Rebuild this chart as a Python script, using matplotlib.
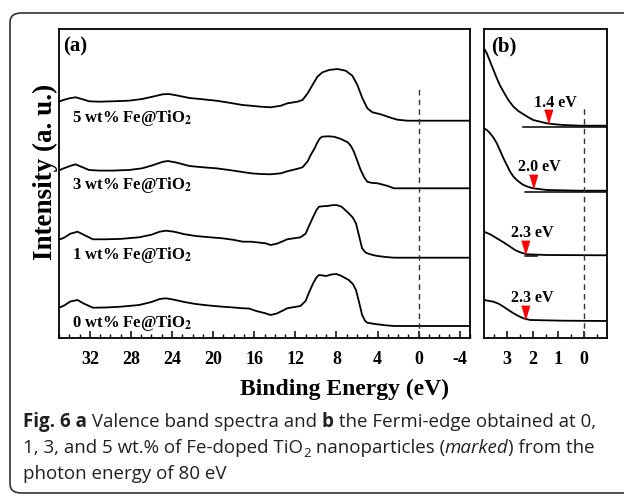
import numpy as np
import matplotlib
matplotlib.use("Agg")
import matplotlib.pyplot as plt
from matplotlib.patches import FancyBboxPatch
from matplotlib.ticker import MultipleLocator

# ---- data ----
samples = ["5 wt% Fe@TiO$_\\mathbf{2}$", "3 wt% Fe@TiO$_\\mathbf{2}$",
           "1 wt% Fe@TiO$_\\mathbf{2}$", "0 wt% Fe@TiO$_\\mathbf{2}$"]
offsets_a = [217.3, 149.7, 80.3, 12.0]

# (a) valence band spectra: binding energy (eV), intensity above own baseline
e_5 = [34.9, 34.66, 34.0, 33.36, 32.7, 32.07, 31.1, 29.8, 28.2, 26.9, 25.9, 24.9, 24.3,
       23.6, 22.3, 21.0, 19.7, 18.45, 17.15, 16.34, 15.37, 14.4, 13.4, 12.77, 11.8, 11.3,
       10.8, 10.33, 9.85, 9.36, 8.72, 7.9, 7.1, 6.45, 5.96, 5.47, 4.99, 4.5, 3.69, 2.72,
       2.07, 1.1, 0, -5]
i_5 = [19.4, 20.4, 22.4, 23.4, 21.4, 19.4, 19, 19.4, 20, 21.7, 24, 26.4, 26.7,
       25.4, 22.7, 21.4, 20, 18, 15.7, 15, 14, 13.4, 15, 17.4, 19, 20.7,
       27.4, 35.7, 44, 48.4, 50.7, 51.7, 50, 45, 35.7, 22.4, 12.4, 8.4, 6.4, 3,
       1, 0, 0, 0]
e_3 = [34.9, 34.66, 34.0, 33.4, 32.7, 32.07, 31.1, 29.8, 28.2, 26.9, 25.9, 24.9, 24.4,
       23.6, 22.3, 21.0, 19.7, 18.45, 17.15, 16.3, 15.4, 14.4, 13.4, 12.8, 11.8, 11.3,
       10.8, 10.5, 10.1, 9.85, 9.6, 9.4, 8.8, 8.25, 7.6, 6.9, 6.6, 6.3, 5.95, 5.64, 5.3,
       5.0, 4.6, 4.0, 3.5, 3.0, 2.4, 0, -5]
i_3 = [18.3, 19.5, 22, 24, 21, 18.3, 17.7, 17.7, 18.3, 20, 23, 26.5, 27.3,
       25.8, 22.3, 21, 20, 18.3, 16.3, 15, 14.3, 14, 15, 17, 19.5, 21,
       27, 33.3, 40.5, 46, 50, 51.6, 52, 51.6, 49.5, 46, 42.5, 36.6, 27, 18.3, 11,
       6.6, 5.5, 5, 3.7, 2.3, 0, 0, 0]
e_1 = [34.9, 34.5, 33.9, 33.2, 32.6, 31.7, 30.5, 29.0, 27.2, 26.0, 25.2, 24.6, 23.8,
       22.8, 21.7, 20.4, 19.1, 18.1, 17.1, 16.3, 15.6, 14.9, 14.4, 13.8, 13.2, 12.8,
       11.5, 11.0, 10.7, 10.3, 9.95, 9.7, 9.3, 8.9, 8.4, 8.0, 7.5, 6.8, 6.4, 6.1, 5.8,
       5.5, 5.2, 5.0, 4.5, 4.0, 3.2, 2.4, 0, -5]
i_1 = [18.4, 20, 24, 26, 23, 18.4, 18.4, 18.8, 20.4, 23, 26, 27, 26,
       23.5, 21.7, 20.5, 19.4, 18, 16, 16, 15.2, 14.4, 12.7, 14, 16.5, 18.4,
       20.4, 24, 31, 40, 47.5, 51, 51.5, 51.7, 52.5, 52.7, 51, 44.4, 40, 34.4, 22,
       9.4, 5.5, 4.4, 2.8, 1.7, 0.7, 0, 0, 0]
e_0 = [34.9, 34.5, 33.9, 33.2, 32.6, 31.7, 30.5, 29.0, 27.2, 26.0, 25.2, 24.6, 23.8,
       22.8, 21.7, 20.4, 19.1, 18.1, 17.1, 16.5, 15.8, 14.9, 14.4, 13.8, 13.2, 12.8,
       11.5, 11.0, 10.7, 10.3, 9.95, 9.7, 9.3, 9.0, 8.5, 8.0, 7.5, 6.8, 6.4, 6.1, 5.8,
       5.5, 5.2, 5.0, 4.5, 4.0, 3.2, 2.4, 0, -5]
i_0 = [18.7, 20.5, 24.5, 26, 22.5, 18.3, 18.5, 19.3, 21, 24, 27, 27.7, 26.3,
       24, 22, 20.5, 19.3, 18.6, 17.7, 17.5, 15, 12.7, 11, 12.5, 15.5, 17.7,
       20, 25, 32.7, 42, 48.5, 51, 50.5, 50, 51.5, 52, 50, 46, 42, 36, 24,
       11, 5, 3.3, 2.4, 1.7, 0.7, 0, 0, 0]
energies_a = [e_5, e_3, e_1, e_0]
spectra_a = [i_5, i_3, i_1, i_0]

# (b) Fermi edge region
offsets_b = [212.3, 147.3, 82.7, 17.0]
eb_5 = [3.9, 3.79, 3.66, 3.53, 3.40, 3.27, 3.14, 2.95, 2.75, 2.56, 2.36, 2.17, 1.98,
        1.71, 1.45, 1.13, 0.81, 0.16, -0.9]
ib_5 = [77.4, 72.4, 64, 55.7, 47.4, 40, 34, 25.7, 19, 14.7, 11.4, 8.4, 5.7,
        4, 2.4, 1.4, 0.7, 0, 0]
eb_3 = [3.9, 3.79, 3.66, 3.53, 3.40, 3.27, 3.14, 3.01, 2.88, 2.75, 2.62, 2.49, 2.36,
        2.17, 1.98, 1.45, 0.16, -0.9]
ib_3 = [62.4, 60.7, 57.4, 53, 47.4, 40, 32.4, 25.7, 19, 14, 10.7, 8, 5.7,
        3.7, 2.4, 0.7, 0, 0]
eb_1 = [3.9, 3.66, 3.40, 3.14, 2.88, 2.69, 2.49, 2.23, 1.45, -0.9]
ib_1 = [23.6, 21, 17, 13, 8.6, 5.3, 3, 1, 0.3, 0]
eb_0 = [3.9, 3.53, 3.33, 3.14, 2.95, 2.75, 2.56, 2.36, 2.10, 0.81, -0.9]
ib_0 = [21, 19.3, 17.3, 14.3, 11, 7.7, 5, 2.7, 1, 0.3, 0]
energies_b = [eb_5, eb_3, eb_1, eb_0]
spectra_b = [ib_5, ib_3, ib_1, ib_0]

edge_values = [1.4, 2.0, 2.3, 2.3]
edge_labels = ["1.4 eV", "2.0 eV", "2.3 eV", "2.3 eV"]
# baseline fit lines: start, end energy and level above own baseline
fit_start = [2.36, 2.3, 2.3]
fit_end = [-0.9, -0.9, 1.83]
fit_level = [-1.0, -1.0, -0.3]

W, H = 624, 496
fig = plt.figure(figsize=(W / 100, H / 100), dpi=100)


def rect(x0, y0, x1, y1):
    return [x0 / W, 1 - y1 / H, (x1 - x0) / W, (y1 - y0) / H]


# outer rounded frame
frame = FancyBboxPatch((10 / W, 3 / H), 700 / W, 480 / H,
                       boxstyle="round,pad=0,rounding_size=0.018",
                       transform=fig.transFigure, fill=False,
                       edgecolor="#333333", linewidth=1.2)
fig.add_artist(frame)

serif = "Liberation Serif"
ax_a = fig.add_axes(rect(59, 29, 470, 338))
ax_b = fig.add_axes(rect(484, 29, 607, 338))

for e, s, off in zip(energies_a, spectra_a, offsets_a):
    ax_a.plot(e, np.array(s) + off, color="black", lw=1.3)
for lab, off in zip(samples, offsets_a):
    ax_a.text(33.7, off - 1, lab, fontsize=12, fontweight="bold", family=serif,
              math_fontfamily="stix", ha="left", va="baseline")
ax_a.plot([0, 0], [0, 250], ls=(0, (4, 3)), color="#333333", lw=1)
ax_a.set_xlim(35, -5)
ax_a.set_ylim(0, 309)
ax_a.xaxis.set_minor_locator(MultipleLocator(1))
ax_a.text(0.01, 0.975, "(a)", transform=ax_a.transAxes, fontsize=15,
          fontweight="bold", family=serif, va="top", ha="left")

for e, s, off in zip(energies_b, spectra_b, offsets_b):
    ax_b.plot(e, np.array(s) + off, color="black", lw=1.3)
for x0, x1, lv, off in zip(fit_start, fit_end, fit_level, offsets_b):
    ax_b.plot([x0, x1], [off + lv, off + lv], color="black", lw=1.1)
tri = [(-0.6, 2), (0.6, 2), (0, 0)]
for ev, lab, e, s, off in zip(edge_values, edge_labels, energies_b, spectra_b, offsets_b):
    yv = np.interp(ev, e[::-1], s[::-1]) + off
    ax_b.plot(ev, yv, marker=tri, ms=19, color="red", mec="red", ls="none")
    ax_b.annotate(lab, (ev, yv), xytext=(5, 12), textcoords="offset points",
                  fontsize=11.5, fontweight="bold", family=serif,
                  ha="center", va="baseline")
ax_b.plot([0, 0], [0, 233], ls=(0, (4, 3)), color="#333333", lw=1)
ax_b.set_xlim(3.9, -0.9)
ax_b.set_ylim(0, 309)
ax_b.xaxis.set_minor_locator(MultipleLocator(0.5))
ax_b.text(0.06, 0.975, "(b)", transform=ax_b.transAxes, fontsize=15,
          fontweight="bold", family=serif, va="top", ha="left")

ax_a.set_xticks([32, 28, 24, 20, 16, 12, 8, 4, 0, -4])
ax_a.set_xticklabels(["32", "28", "24", "20", "16", "12", "8", "4", "0", "-4"],
                     fontfamily=serif, fontweight="bold")
ax_b.set_xticks([3, 2, 1, 0])
ax_b.set_xticklabels(["3", "2", "1", "0"], fontfamily=serif, fontweight="bold")

for ax in (ax_a, ax_b):
    ax.set_yticks([])
    for sp in ax.spines.values():
        sp.set_linewidth(1.3)
    ax.tick_params(axis="x", which="major", direction="in", length=5, width=1.1,
                   labelsize=13, pad=9)
    ax.tick_params(axis="x", which="minor", direction="in", length=3, width=1.0)

fig.text(345 / W, 1 - 395 / H, "Binding Energy (eV)", fontsize=17, fontweight="bold",
         family=serif, ha="center", va="baseline")
fig.text(45 / W, 1 - 172 / H, "Intensity (a. u.)", fontsize=19.5, fontweight="bold",
         family=serif, ha="center", va="center", rotation=90)

# caption, drawn piece by piece
renderer = fig.canvas.get_renderer()
cap_size = 13.5


def caption_line(x, y, parts):
    for s, style in parts:
        kw = dict(fontsize=cap_size, family="Open Sans", color="#231f20",
                  ha="left", va="baseline")
        yy = y
        if style == "bold":
            kw["fontweight"] = "bold"
        elif style == "italic":
            kw["fontstyle"] = "italic"
        elif style == "sub":
            kw["fontsize"] = cap_size * 0.7
            yy = y + 4
        t = fig.text(x / W, 1 - yy / H, s, **kw)
        x += t.get_window_extent(renderer).width


caption_line(23, 427, [("Fig. 6 a", "bold"), (" Valence band spectra and ", ""),
                       ("b", "bold"), (" the Fermi-edge obtained at 0,", "")])
caption_line(23, 453, [("1, 3, and 5 wt.% of Fe-doped TiO", ""), ("2", "sub"),
                       (" nanoparticles (", ""), ("marked", "italic"),
                       (") from the", "")])
caption_line(23, 479, [("photon energy of 80 eV", "")])

fig.savefig("out.png", dpi=100)
